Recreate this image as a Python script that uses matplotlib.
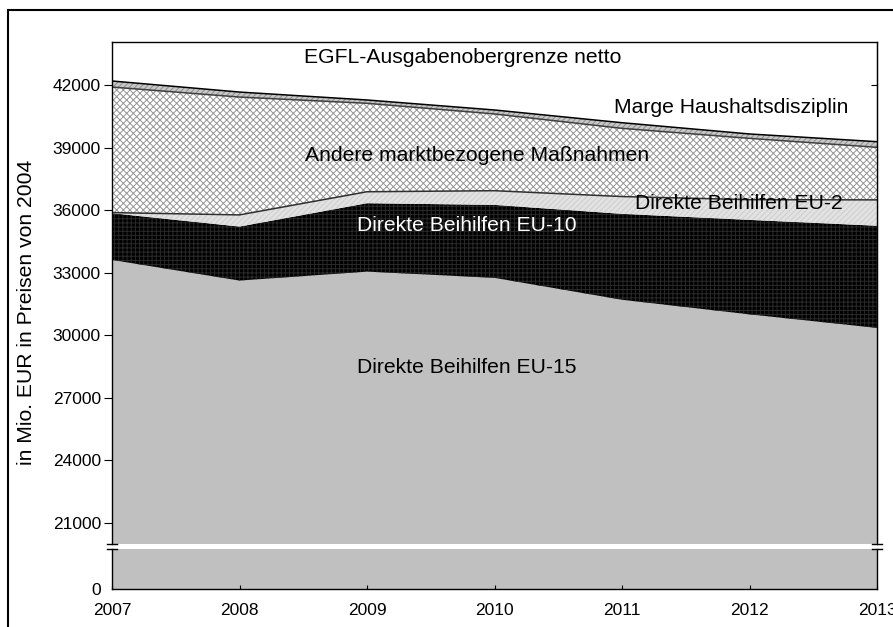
import numpy as np
import matplotlib
matplotlib.use('Agg')
from matplotlib import pyplot as plt
from matplotlib.patches import Rectangle

plt.rcParams['font.family'] = ['Liberation Sans', 'DejaVu Sans']
plt.rcParams['hatch.linewidth'] = 0.7

# Data (Mio. EUR, Preise 2004)
years = [2007, 2008, 2009, 2010, 2011, 2012, 2013]
eu15 = [33610, 32620, 33050, 32750, 31700, 31000, 30350]
eu10 = [2240, 2590, 3280, 3500, 4120, 4530, 4900]
eu2 = [30, 560, 550, 680, 830, 970, 1240]
andere = [6020, 5650, 4240, 3680, 3270, 2940, 2520]
marge = [290, 240, 160, 190, 270, 210, 270]

yticks = [21000, 24000, 27000, 30000, 33000, 36000, 39000, 42000]

# Layer styles: face, hatch, hatch colour, top line colour
layers = [
    (eu15, '#c0c0c0', None, '#c0c0c0', None),
    (eu10, '#000000', '++++', '#2a2a2a', None),
    (eu2, '#e2e2e2', '//////', '#cdcdcd', '#303030'),
    (andere, '#ffffff', 'xxxxx', '#959595', '#404040'),
    (marge, '#c8c8c8', '//////', '#8c8c8c', '#000000'),
]

W, H = 893, 627
fig = plt.figure(figsize=(W / 100, H / 100), dpi=100)

left, right = 112 / W, 877 / W
ax = fig.add_axes([left, 1 - 544 / H, right - left, (544 - 42) / H])
ax2 = fig.add_axes([left, 1 - 589 / H, right - left, (589 - 549) / H])

x = np.array(years)
for a in (ax, ax2):
    base = np.zeros(len(years))
    for vals, face, hatch, hcol, lcol in layers:
        top = base + np.array(vals)
        a.fill_between(x, base, top, facecolor=face, hatch=hatch,
                       edgecolor=hcol, linewidth=0)
        if lcol is not None:
            a.plot(x, top, color=lcol, lw=1.1)
        base = top
    a.set_xlim(2007, 2013)

ax.set_ylim(19990, 44060)
ax.set_yticks(yticks)
ax.set_xticks([])
ax.spines['bottom'].set_visible(False)
ax.tick_params(axis='y', which='both', direction='out', length=6, pad=2,
               labelsize=12.5, right=False)
# inward ticks on the right
axr = ax.secondary_yaxis('right')
axr.set_yticks(yticks)
axr.tick_params(direction='in', length=4, labelright=False)

ax2.set_ylim(0, 1000)
ax2.set_yticks([0])
ax2.spines['top'].set_visible(False)
ax2.set_xticks(years)
ax2.tick_params(axis='x', direction='in', length=3, pad=10, labelsize=12.5)
ax2.tick_params(axis='y', length=0, pad=8, labelsize=12.5)
for a in (ax, ax2):
    for s in a.spines.values():
        s.set_linewidth(1.0)

# break marks
for xf in (0, 1):
    ax.plot([xf - 0.006, xf + 0.006], [0, 0], transform=ax.transAxes,
            color='black', lw=1, clip_on=False)
    ax2.plot([xf - 0.006, xf + 0.006], [1, 1], transform=ax2.transAxes,
             color='black', lw=1, clip_on=False)

# labels in the areas
fs = 15.2
ax.text(2009.75, 43340, 'EGFL-Ausgabenobergrenze netto', ha='center', va='center', fontsize=fs)
ax.text(2011.86, 40900, 'Marge Haushaltsdisziplin', ha='center', va='center', fontsize=fs)
ax.text(2009.86, 38600, 'Andere marktbezogene Maßnahmen', ha='center', va='center', fontsize=fs)
ax.text(2011.92, 36340, 'Direkte Beihilfen EU-2', ha='center', va='center', fontsize=fs)
ax.text(2009.78, 35240, 'Direkte Beihilfen EU-10', ha='center', va='center', fontsize=fs, color='white')
ax.text(2009.78, 28430, 'Direkte Beihilfen EU-15', ha='center', va='center', fontsize=fs)

fig.text(27 / W, 1 - 312 / H, 'in Mio. EUR in Preisen von 2004', rotation=90,
         ha='center', va='center', fontsize=15.2)

# outer frame (cut at right and bottom edges)
fig.patches.append(Rectangle((8 / W, -0.1), 1.0, 1.1 - 10 / H, transform=fig.transFigure,
                             fill=False, lw=1.5, edgecolor='black'))

fig.savefig('out.png', dpi=100)
